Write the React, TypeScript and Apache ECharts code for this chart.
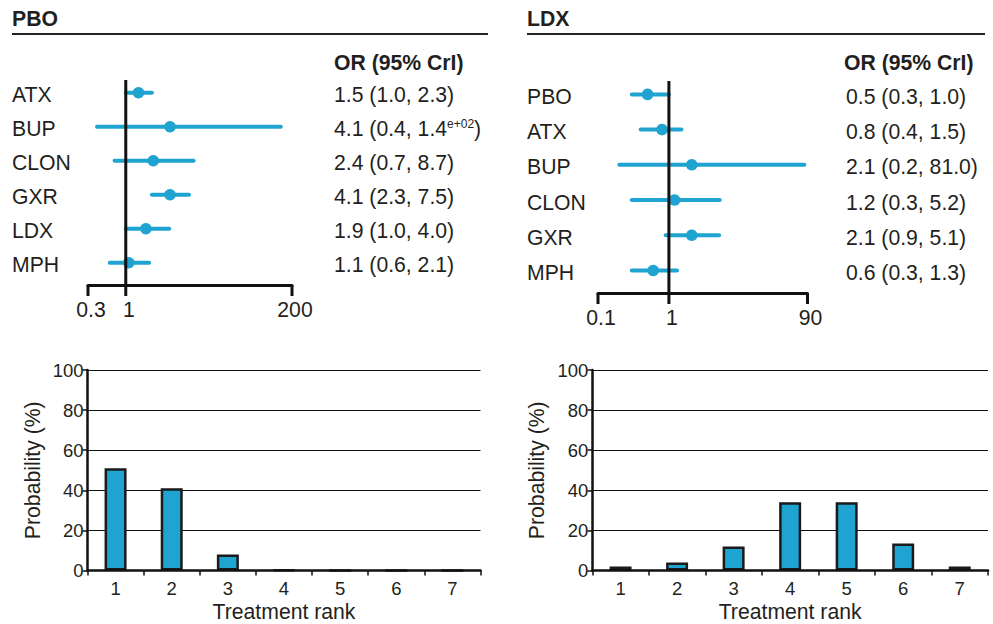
import React, { useEffect, useRef } from 'react';
import * as echarts from 'echarts';

// ---------- data ----------
const panelTitles = ['PBO', 'LDX'];
const orHeader = 'OR (95% CrI)';

const pboTreatments = ['ATX', 'BUP', 'CLON', 'GXR', 'LDX', 'MPH'];
const pboOR = [1.5, 4.1, 2.4, 4.1, 1.9, 1.1];
const pboLow = [1.0, 0.4, 0.7, 2.3, 1.0, 0.6];
const pboHigh = [2.3, 140, 8.7, 7.5, 4.0, 2.1];
const pboAxisTicks = [0.3, 1, 200];

const ldxTreatments = ['PBO', 'ATX', 'BUP', 'CLON', 'GXR', 'MPH'];
const ldxOR = [0.5, 0.8, 2.1, 1.2, 2.1, 0.6];
const ldxLow = [0.3, 0.4, 0.2, 0.3, 0.9, 0.3];
const ldxHigh = [1.0, 1.5, 81.0, 5.2, 5.1, 1.3];
const ldxAxisTicks = [0.1, 1, 90];

const ranks = ['1', '2', '3', '4', '5', '6', '7'];
const pboRankProb = [51, 41, 8, 0.3, 0, 0, 0];
const ldxRankProb = [2, 4, 12, 34, 34, 13.5, 2];

// ---------- style ----------
const FONT = '"Liberation Sans", Arial, Helvetica, sans-serif';
const INK = '#231f20';
const BLUE = '#1fa3d1';
const FS = 21.2;
const TICK_FS = 18.5;

function fmtNum(v: number): string {
  if (v >= 100) {
    const e = Math.floor(Math.log10(v));
    const m = (v / Math.pow(10, e)).toFixed(1);
    return `{n|${m}}{s|e+${String(e).padStart(2, '0')}}`;
  }
  return `{n|${v.toFixed(1)}}`;
}
function orText(or: number, lo: number, hi: number): string {
  return `{n|${or.toFixed(1)} (}${fmtNum(lo)}{n|, }${fmtNum(hi)}{n|)}`;
}

const richStyles = {
  n: { fontSize: FS, fontFamily: FONT, fill: INK, color: INK, verticalAlign: 'middle' },
  s: { fontSize: 12, fontFamily: FONT, fill: INK, color: INK, verticalAlign: 'top' },
};

function forestSeries(
  axisIdx: number,
  names: string[],
  or: number[],
  lo: number[],
  hi: number[],
  ticks: number[],
  labelX: number,
  orX: number
) {
  const data = names.map((_, i) => [or[i], lo[i], hi[i], i]);
  return [
    {
      type: 'custom',
      xAxisIndex: axisIdx,
      yAxisIndex: axisIdx,
      data,
      encode: { x: [0, 1, 2], y: 3 },
      z: 2,
      renderItem: (params: any, api: any) => {
        const row = api.value(3);
        const idx = params.dataIndex;
        const p = api.coord([api.value(0), row]);
        const a = api.coord([api.value(1), row]);
        const b = api.coord([api.value(2), row]);
        return {
          type: 'group',
          children: [
            {
              type: 'line',
              shape: { x1: a[0], y1: a[1], x2: b[0], y2: b[1] },
              style: { stroke: BLUE, lineWidth: 4, lineCap: 'round' },
            },
            {
              type: 'circle',
              shape: { cx: p[0], cy: p[1], r: 5.8 },
              style: { fill: BLUE },
            },
            {
              type: 'text',
              x: labelX,
              y: p[1] + 2,
              style: {
                text: names[idx],
                fontSize: FS,
                fontFamily: FONT,
                fill: INK,
                align: 'left',
                verticalAlign: 'middle',
                textAlign: 'left',
                textVerticalAlign: 'middle',
              },
            },
            {
              type: 'text',
              x: orX,
              y: p[1] + 2,
              style: {
                text: orText(or[idx], lo[idx], hi[idx]),
                rich: richStyles,
                fontSize: FS,
                fontFamily: FONT,
                fill: INK,
                align: 'left',
                verticalAlign: 'middle',
                textAlign: 'left',
                textVerticalAlign: 'middle',
              },
            },
          ],
        };
      },
    },
    {
      // reference line at OR = 1 and axis ticks with labels
      type: 'custom',
      xAxisIndex: axisIdx,
      yAxisIndex: axisIdx,
      data: ticks.map((v) => [v, 0]),
      encode: { x: 0, y: 1 },
      z: 5,
      renderItem: (params: any, api: any) => {
        const cs = params.coordSys;
        const v = api.value(0);
        const x = api.coord([v, 0])[0];
        const bottom = cs.y + cs.height;
        const children: any[] = [
          {
            type: 'line',
            shape: { x1: x, y1: bottom, x2: x, y2: bottom + 11 },
            style: { stroke: '#111', lineWidth: 3 },
          },
          {
            type: 'text',
            x: x + 3,
            y: bottom + 24,
            style: {
              text: String(v),
              fontSize: FS,
              fontFamily: FONT,
              fill: INK,
              align: 'center',
              verticalAlign: 'middle',
              textAlign: 'center',
              textVerticalAlign: 'middle',
            },
          },
        ];
        if (v === 1) {
          children.push({
            type: 'line',
            shape: { x1: x, y1: cs.y, x2: x, y2: bottom },
            style: { stroke: '#111', lineWidth: 3 },
          });
        }
        return { type: 'group', children };
      },
    },
  ];
}

function barXAxis(gridIndex: number) {
  return {
    gridIndex,
    type: 'category',
    data: ranks,
    name: 'Treatment rank',
    nameLocation: 'middle',
    nameGap: 30,
    nameTextStyle: { fontSize: FS, fontFamily: FONT, color: INK },
    axisLine: { show: true, lineStyle: { color: '#111', width: 2.5 } },
    axisTick: { show: true, length: 5, inside: false, lineStyle: { color: '#111', width: 1.5 } },
    axisLabel: { fontSize: TICK_FS, fontFamily: FONT, color: INK, margin: 8 },
    splitLine: { show: false },
    z: 3,
  };
}
function barYAxis(gridIndex: number) {
  return {
    gridIndex,
    type: 'value',
    min: 0,
    max: 100,
    interval: 20,
    name: 'Probability (%)',
    nameLocation: 'middle',
    nameGap: 45,
    nameTextStyle: { fontSize: FS, fontFamily: FONT, color: INK },
    axisLine: { show: true, lineStyle: { color: '#111', width: 2.5 } },
    axisTick: { show: true, length: 5, inside: false, lineStyle: { color: '#111', width: 1.5 } },
    axisLabel: { fontSize: TICK_FS, fontFamily: FONT, color: INK, margin: 4 },
    splitLine: { show: true, lineStyle: { color: '#111', width: 1.2 } },
  };
}
function forestXAxis(gridIndex: number, min: number, max: number) {
  return {
    gridIndex,
    type: 'log',
    logBase: 10,
    min,
    max,
    axisLine: { show: true, onZero: false, lineStyle: { color: '#111', width: 3 } },
    axisTick: { show: false },
    axisLabel: { show: false },
    splitLine: { show: false },
    minorTick: { show: false },
  };
}

export default function App() {
  const ref = useRef<HTMLDivElement>(null);
  useEffect(() => {
    if (!ref.current) return;
    const chart = echarts.init(ref.current, undefined, { renderer: 'svg' });
    const headerStyle = (text: string, x: number, y: number) => ({
      type: 'text',
      x,
      y,
      style: {
        text,
        fontSize: FS,
        fontWeight: 'bold',
        fontFamily: FONT,
        fill: INK,
        align: 'left',
        verticalAlign: 'middle',
        textAlign: 'left',
        textVerticalAlign: 'middle',
      },
    });
    const option: any = {
      animation: false,
      backgroundColor: '#ffffff',
      graphic: [
        headerStyle(panelTitles[0], 12, 18),
        headerStyle(panelTitles[1], 527, 18),
        {
          type: 'line',
          shape: { x1: 12, y1: 34, x2: 488, y2: 34 },
          style: { stroke: '#222', lineWidth: 2 },
        },
        {
          type: 'line',
          shape: { x1: 527, y1: 34, x2: 985, y2: 34 },
          style: { stroke: '#222', lineWidth: 2 },
        },
        headerStyle(orHeader, 334, 62),
        headerStyle(orHeader, 844, 62),
      ],
      grid: [
        { left: 88, top: 80, width: 204, height: 205 },
        { left: 598, top: 81, width: 209.5, height: 212 },
        { left: 87.5, top: 370, width: 393, height: 200.5 },
        { left: 592.3, top: 370, width: 395.7, height: 200.5 },
      ],
      xAxis: [
        forestXAxis(0, 0.3, 200),
        forestXAxis(1, 0.1, 90),
        barXAxis(2),
        barXAxis(3),
      ],
      yAxis: [
        { gridIndex: 0, type: 'value', inverse: true, min: -0.373, max: 5.656, show: false },
        { gridIndex: 1, type: 'value', inverse: true, min: -0.38, max: 5.64, show: false },
        barYAxis(2),
        barYAxis(3),
      ],
      series: [
        ...forestSeries(0, pboTreatments, pboOR, pboLow, pboHigh, pboAxisTicks, 12, 334),
        ...forestSeries(1, ldxTreatments, ldxOR, ldxLow, ldxHigh, ldxAxisTicks, 527, 846),
        {
          type: 'bar',
          xAxisIndex: 2,
          yAxisIndex: 2,
          data: pboRankProb,
          barWidth: 22,
          itemStyle: { color: BLUE, borderColor: '#1a1a1a', borderWidth: 2.5 },
        },
        {
          type: 'bar',
          xAxisIndex: 3,
          yAxisIndex: 3,
          data: ldxRankProb,
          barWidth: 22,
          itemStyle: { color: BLUE, borderColor: '#1a1a1a', borderWidth: 2.5 },
        },
      ],
    };
    chart.setOption(option);
    return () => chart.dispose();
  }, []);
  return (
    <div
      ref={ref}
      style={{ position: 'fixed', left: 0, top: 0, width: 993, height: 624, background: '#fff' }}
    />
  );
}
